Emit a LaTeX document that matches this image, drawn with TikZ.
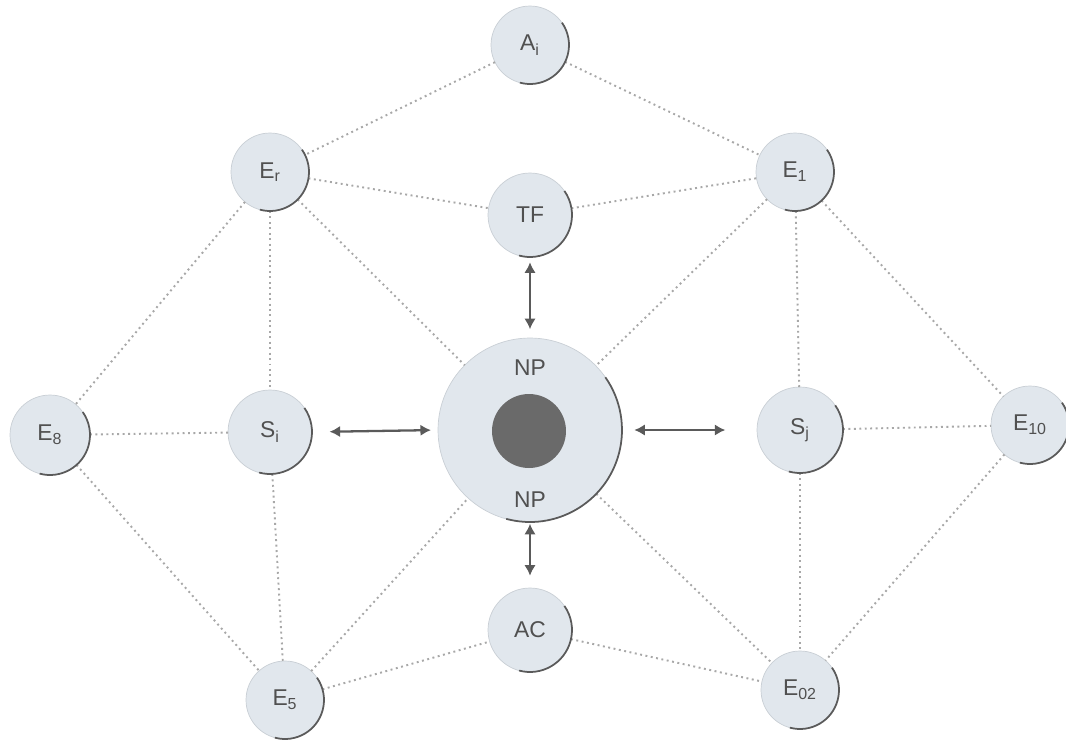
\documentclass[tikz,border=0pt]{standalone}
\usepackage{fontspec}
\setmainfont{Liberation Sans}
\usetikzlibrary{arrows.meta,calc}
\definecolor{ballfill}{HTML}{E1E7ED}
\definecolor{ballrim}{HTML}{C9CFD5}
\definecolor{shade}{HTML}{5A5A5A}
\definecolor{txt}{HTML}{505050}
\definecolor{corefill}{HTML}{6A6A6A}
\definecolor{dotline}{HTML}{A8A8A8}
\begin{document}
\begin{tikzpicture}[x=0.02cm,y=-0.02cm,
  ball/.style={circle,fill=ballfill,draw=ballrim,line width=0.4pt,inner sep=0pt,outer sep=0pt,
    minimum size=#1,text=txt,font=\fontsize{13}{13}\selectfont},
  ball/.default=1.56cm,
  link/.style={draw=dotline,dotted,line width=1.1pt},
  biarrow/.style={draw=shade,line width=1.3pt,{Latex[length=6pt,width=6.5pt]}-{Latex[length=6pt,width=6.5pt]}},
  rimshadow/.style={draw=shade,line width=1pt}]
\useasboundingbox (0,0) rectangle (1066,745);

% nodes
\node[ball] (A) at (530,45) {A$_{\mathrm{i}}$};
\node[ball] (Er) at (270,172) {E$_{\mathrm{r}}$};
\node[ball] (Ei) at (795,172) {E$_{\mathrm{1}}$};
\node[ball=1.68cm] (TF) at (530,215) {TF};
\node[ball=1.6cm] (E8) at (50,435) {E$_{\mathrm{8}}$};
\node[ball=1.68cm] (Si) at (270,432) {S$_{\mathrm{i}}$};
\node[ball=3.68cm] (NP) at (530,430) {};
\node[ball=1.72cm] (Sj) at (800,430) {S$_{\mathrm{j}}$};
\node[ball] (E10) at (1030,425) {E$_{\mathrm{10}}$};
\node[ball=1.68cm] (AC) at (530,630) {AC};
\node[ball] (E3) at (285,700) {E$_{\mathrm{5}}$};
\node[ball] (E02) at (800,690) {E$_{\mathrm{02}}$};

% dotted links
\path[link] (A) -- (Er);
\path[link] (A) -- (Ei);
\path[link] (Er) -- (TF);
\path[link] (TF) -- (Ei);
\path[link] (Er) -- (NP);
\path[link] (Ei) -- (NP);
\path[link] (Er) -- (E8);
\path[link] (Er) -- (Si);
\path[link] (Ei) -- (Sj);
\path[link] (Ei) -- (E10);
\path[link] (E8) -- (Si);
\path[link] (Sj) -- (E10);
\path[link] (E8) -- (E3);
\path[link] (Si) -- (E3);
\path[link] (E3) -- (NP);
\path[link] (E3) -- (AC);
\path[link] (AC) -- (E02);
\path[link] (NP) -- (E02);
\path[link] (Sj) -- (E02);
\path[link] (E10) -- (E02);

% rim shadows
\foreach \nm in {A,Er,Ei,TF,E8,Si,NP,Sj,E10,AC,E3,E02}{
  \draw[rimshadow] let \p1=(\nm.east), \p2=(\nm.center), \n1={veclen(\x1-\x2,\y1-\y2)} in
    (\nm.-105) arc[start angle=-105,end angle=35,radius=\n1];
}

% core of NP
\node[circle,fill=corefill,inner sep=0pt,minimum size=1.48cm] (core) at (529,431) {};
\node[text=txt,font=\fontsize{13}{13}\selectfont] (np1) at (530,368) {NP};
\node[text=txt,font=\fontsize{13}{13}\selectfont] (np2) at (530,500) {NP};

% arrows
\draw[biarrow,shorten <=3pt,shorten >=5pt] (TF) -- (NP);
\draw[biarrow,shorten <=10pt,shorten >=4pt] (Si.east) -- (NP.west);
\draw[biarrow,shorten <=7pt,shorten >=18pt] (NP.east) -- (Sj.west);
\draw[biarrow,shorten <=1pt,shorten >=7pt] (NP) -- (AC);
\end{tikzpicture}
\end{document}
